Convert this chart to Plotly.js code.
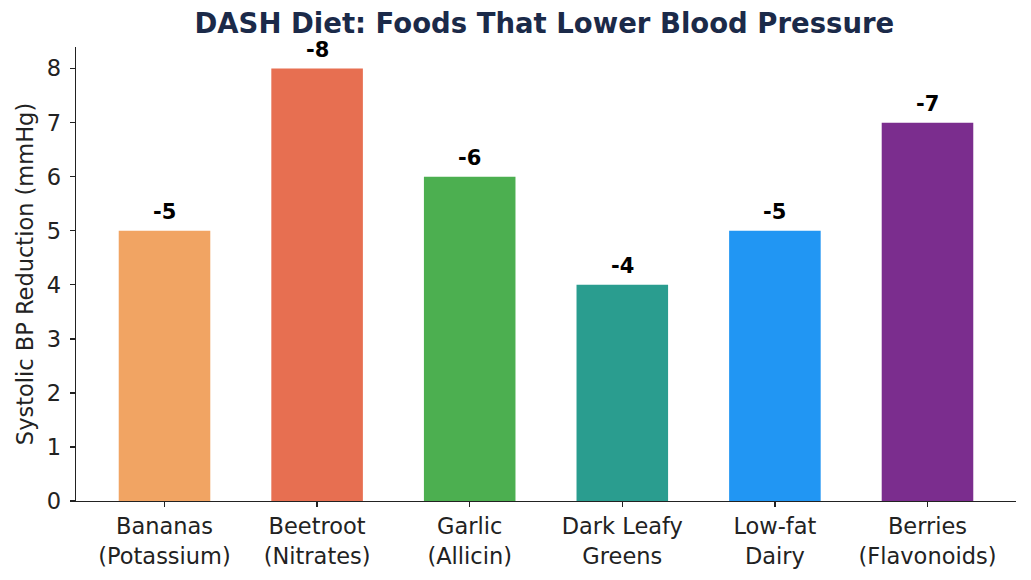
<!DOCTYPE html>
<html>
<head>
<meta charset="utf-8">
<script src="https://cdn.plot.ly/plotly-3.0.1.min.js"></script>
<style>
  html, body { margin: 0; padding: 0; background: #ffffff; }
  #chart { width: 1031px; height: 580px; }
</style>
</head>
<body>
<div id="chart"></div>
<script>
// Foods in the DASH diet and the systolic blood pressure drop each is linked to
const foods = [
  'Bananas<br>(Potassium)',
  'Beetroot<br>(Nitrates)',
  'Garlic<br>(Allicin)',
  'Dark Leafy<br>Greens',
  'Low-fat<br>Dairy',
  'Berries<br>(Flavonoids)'
];
const reductionMmHg = [5, 8, 6, 4, 5, 7];
const barColors = ['#F1A463', '#E76F51', '#4CAF50', '#2A9D8F', '#2196F3', '#7B2D8E'];
const yTicks = [0, 1, 2, 3, 4, 5, 6, 7, 8];

const font = 'DejaVu Sans, Verdana, sans-serif';
const ink = '#222222';
const labelSize = 22.5;

const bars = {
  type: 'bar',
  x: foods,
  y: reductionMmHg,
  width: 0.6,
  marker: { color: barColors, line: { width: 0 } },
  hoverinfo: 'skip'
};

// Value labels above each bar, shown as a drop (negative mmHg)
const valueLabels = foods.map((f, i) => ({
  x: f,
  y: reductionMmHg[i],
  xref: 'x',
  yref: 'y',
  text: '<b>-' + reductionMmHg[i] + '</b>',
  showarrow: false,
  yanchor: 'bottom',
  yshift: 5,
  font: { family: font, size: 21, color: '#000000' }
}));

const layout = {
  width: 1031,
  height: 580,
  paper_bgcolor: '#ffffff',
  plot_bgcolor: '#ffffff',
  margin: { l: 76, r: 15, t: 47, b: 79 },
  showlegend: false,
  title: {
    text: '<b>DASH Diet: Foods That Lower Blood Pressure</b>',
    font: { family: font, size: 27.5, color: '#1B2A49' },
    x: 0.528, xanchor: 'center',
    y: 0.96, yanchor: 'middle'
  },
  xaxis: {
    range: [-0.58, 5.58],
    showgrid: false,
    zeroline: false,
    showline: true,
    linecolor: ink,
    linewidth: 1.3,
    ticks: 'outside',
    ticklen: 5,
    tickwidth: 1.3,
    tickcolor: ink,
    tickfont: { family: font, size: labelSize, color: ink }
  },
  yaxis: {
    range: [0, 8.4],
    tickvals: yTicks,
    showgrid: false,
    zeroline: false,
    showline: true,
    linecolor: ink,
    linewidth: 1.3,
    ticks: 'outside',
    ticklen: 5,
    tickwidth: 1.3,
    tickcolor: ink,
    ticklabelstandoff: 4,
    tickfont: { family: font, size: labelSize, color: ink },
    automargin: true,
    title: {
      text: 'Systolic BP Reduction (mmHg)',
      standoff: 7,
      font: { family: font, size: labelSize, color: ink }
    }
  },
  annotations: valueLabels
};

Plotly.newPlot('chart', [bars], layout, { displayModeBar: false, staticPlot: true });
</script>
</body>
</html>
